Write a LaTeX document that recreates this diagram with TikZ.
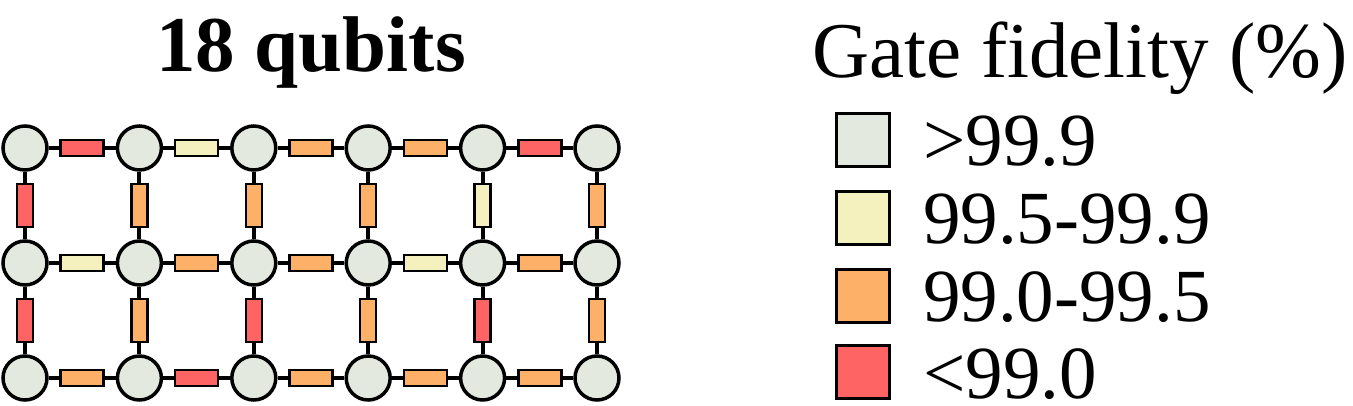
\documentclass[tikz,border=0pt]{standalone}
\usepackage{fontspec}
\setmainfont{Liberation Serif}
\usetikzlibrary{positioning}
\definecolor{qgray}{RGB}{227,233,223}
\definecolor{qyellow}{RGB}{244,241,190}
\definecolor{qorange}{RGB}{253,176,103}
\definecolor{qred}{RGB}{255,100,100}

\begin{document}
\begin{tikzpicture}[x=1pt,y=-1pt,
	qubit/.style={circle,draw,line width=3.5pt,fill=qgray,minimum size=44pt,inner sep=0pt},
	hgate/.style={rectangle,draw,line width=2.5pt,minimum width=43pt,minimum height=16pt,inner sep=0pt},
	vgate/.style={rectangle,draw,line width=2.5pt,minimum width=16pt,minimum height=43pt,inner sep=0pt},
	link/.style={line width=4pt},
	key/.style={rectangle,draw,line width=3.5pt,minimum size=53pt,inner sep=0pt},
	big/.style={inner sep=0pt,font=\fontsize{75}{90}\selectfont}]
	\useasboundingbox (0,0) rectangle (1353,406);
	\node[big,anchor=base,font=\fontsize{79}{90}\selectfont\bfseries] (title) at (311,72) {18 qubits};
	% qubits
	\foreach \r in {1,2,3}
		\foreach \c in {1,...,6}
			\node[qubit] (q-\r-\c) at ({25+114.4*(\c-1)},{148+115*(\r-1)}) {};
	% couplers
	\foreach \col [count=\c] in {qred,qyellow,qorange,qorange,qred} {
		\pgfmathtruncatemacro\n{\c+1}
		\draw[link] (q-1-\c) -- (q-1-\n) node[midway,hgate,fill=\col] {};
	}
	\foreach \col [count=\c] in {qyellow,qorange,qorange,qyellow,qorange} {
		\pgfmathtruncatemacro\n{\c+1}
		\draw[link] (q-2-\c) -- (q-2-\n) node[midway,hgate,fill=\col] {};
	}
	\foreach \col [count=\c] in {qorange,qred,qorange,qorange,qorange} {
		\pgfmathtruncatemacro\n{\c+1}
		\draw[link] (q-3-\c) -- (q-3-\n) node[midway,hgate,fill=\col] {};
	}
	\foreach \col [count=\c] in {qred,qorange,qorange,qorange,qyellow,qorange}
		\draw[link] (q-1-\c) -- (q-2-\c) node[midway,vgate,fill=\col] {};
	\foreach \col [count=\c] in {qred,qorange,qred,qorange,qred,qorange}
		\draw[link] (q-2-\c) -- (q-3-\c) node[midway,vgate,fill=\col] {};
	% legend
	\node[big,anchor=base west,font=\fontsize{79}{96}\selectfont] (head) at (812,78) {Gate fidelity (\%)};
	\foreach \col/\txt/\y [count=\i] in {qgray/{>99.9}/140,qyellow/{99.5-99.9}/218,qorange/{99.0-99.5}/296,qred/{<99.0}/372} {
		\node[key,fill=\col] (k\i) at (863,\y) {};
		\node[big,anchor=base west] (t\i) at (923,\y+26) {\txt};
	}
\end{tikzpicture}
\end{document}
